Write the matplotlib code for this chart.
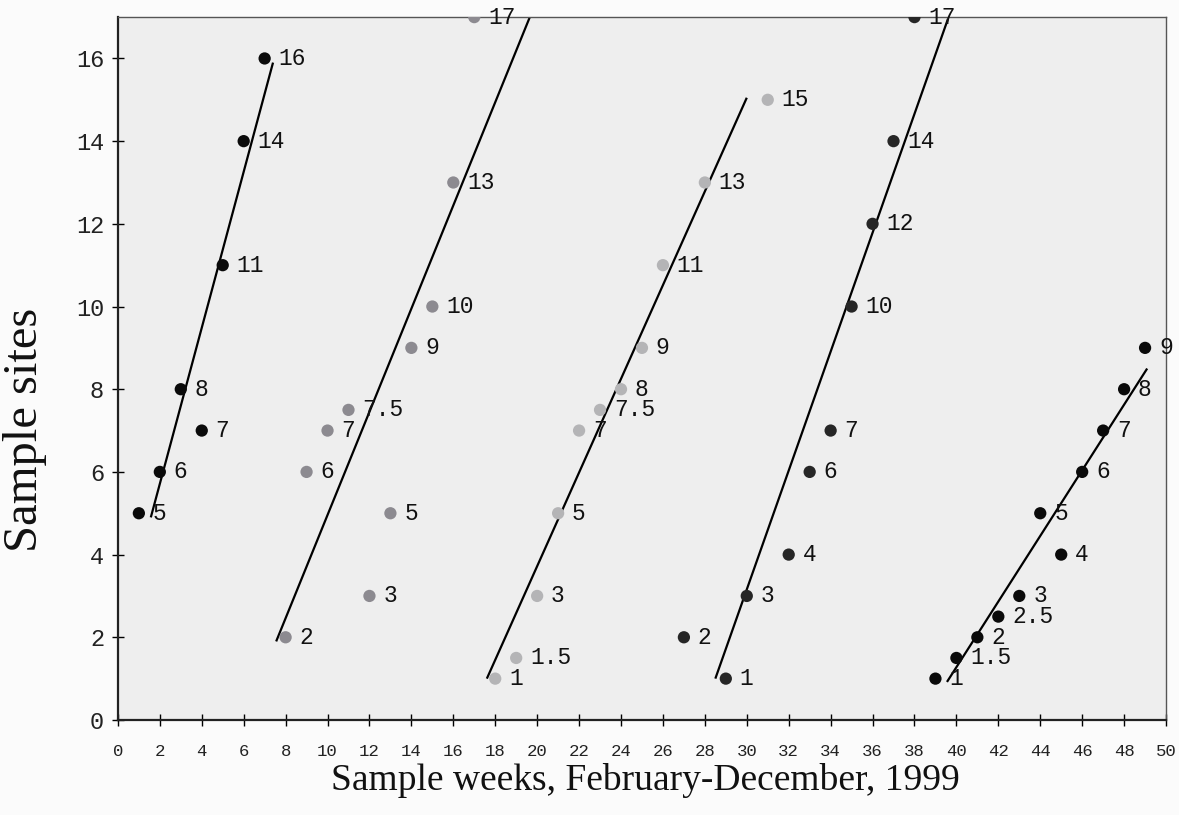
import matplotlib
matplotlib.use("Agg")
import matplotlib.pyplot as plt

# Group 1 (black)
g1_weeks = [1, 2, 3, 4, 5, 6, 7]
g1_sites = [5, 6, 8, 7, 11, 14, 16]
g1_line_x = [1.57, 7.4]
g1_line_y = [4.9, 15.9]

# Group 2 (medium gray)
g2_weeks = [8, 9, 10, 11, 12, 13, 14, 15, 16, 17]
g2_sites = [2, 6, 7, 7.5, 3, 5, 9, 10, 13, 17]
g2_line_x = [7.55, 19.65]
g2_line_y = [1.9, 17.0]

# Group 3 (light gray)
g3_weeks = [18, 19, 20, 21, 22, 23, 24, 25, 26, 28, 31]
g3_sites = [1, 1.5, 3, 5, 7, 7.5, 8, 9, 11, 13, 15]
g3_line_x = [17.6, 30.0]
g3_line_y = [1.0, 15.05]

# Group 4 (dark)
g4_weeks = [27, 29, 30, 32, 33, 34, 35, 36, 37, 38]
g4_sites = [2, 1, 3, 4, 6, 7, 10, 12, 14, 17]
g4_line_x = [28.5, 39.6]
g4_line_y = [1.0, 16.96]

# Group 5 (black)
g5_weeks = [39, 40, 41, 42, 43, 44, 45, 46, 47, 48, 49]
g5_sites = [1, 1.5, 2, 2.5, 3, 5, 4, 6, 7, 8, 9]
g5_line_x = [39.55, 49.1]
g5_line_y = [0.92, 8.5]

groups = [
    (g1_weeks, g1_sites, g1_line_x, g1_line_y, "#0a0a0a"),
    (g2_weeks, g2_sites, g2_line_x, g2_line_y, "#8c8a90"),
    (g3_weeks, g3_sites, g3_line_x, g3_line_y, "#b4b4b6"),
    (g4_weeks, g4_sites, g4_line_x, g4_line_y, "#262626"),
    (g5_weeks, g5_sites, g5_line_x, g5_line_y, "#0a0a0a"),
]

x_ticks = list(range(0, 51, 2))
y_ticks = list(range(0, 17, 2))

fig = plt.figure(figsize=(11.79, 8.15), dpi=100, facecolor="#fbfbfb")
ax = fig.add_axes([0.100, 0.1166, 0.889, 0.8624])
ax.set_facecolor("#eeeeee")

mono = "Liberation Mono"
for wx, sy, lx, ly, col in groups:
    ax.plot(lx, ly, color="black", lw=1.6, zorder=2, solid_capstyle="butt")
    ax.scatter(wx, sy, s=78, color=col, zorder=3, edgecolors="none")
    for x, y in zip(wx, sy):
        lab = ("%g" % y)
        ax.annotate(lab, (x, y), xytext=(10, 0), textcoords="offset points",
                    ha="left", va="center", fontsize=16.5, family=mono,
                    color="#111111", zorder=4)

ax.set_xlim(0, 50)
ax.set_ylim(0, 17)
ax.set_xticks(x_ticks)
ax.set_yticks(y_ticks)
ax.tick_params(axis="x", direction="inout", length=8, width=1, labelsize=12.5, pad=13)
ax.tick_params(axis="y", direction="inout", length=8, width=1, labelsize=17, pad=6)
for lab in ax.get_xticklabels() + ax.get_yticklabels():
    lab.set_family(mono)
    lab.set_color("#222222")

for side in ["left", "bottom"]:
    ax.spines[side].set_linewidth(1.6)
    ax.spines[side].set_color("#222222")
for side in ["top", "right"]:
    ax.spines[side].set_linewidth(1.0)
    ax.spines[side].set_color("#555555")

fig.text(0.547, 0.042, "Sample weeks, February-December, 1999",
         family="Liberation Serif", fontsize=27, color="#111111",
         ha="center", va="center")
fig.text(0.0215, 0.4724, "Sample sites", family="Liberation Serif",
         fontsize=35, color="#111111", rotation=90, ha="center", va="center")

fig.savefig("out.png", dpi=100, facecolor=fig.get_facecolor())
